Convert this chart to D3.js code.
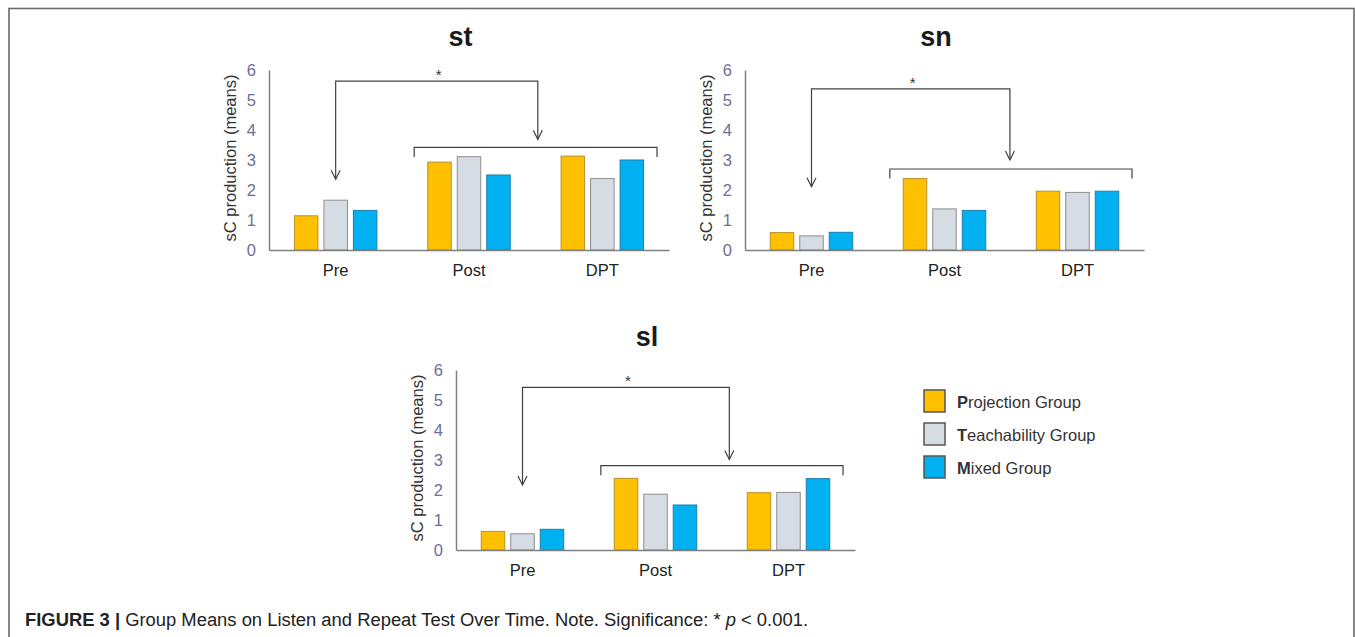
<!DOCTYPE html>
<html>
<head>
<meta charset="utf-8">
<script src="https://cdn.jsdelivr.net/npm/d3@7"></script>
<style>
  html, body { margin: 0; padding: 0; background: #fff; }
  svg { display: block; font-family: "Liberation Sans", Arial, sans-serif; }
</style>
</head>
<body>
<svg id="chart" width="1355" height="637"></svg>
<script>
// ---------------- data ----------------
const categories = ["Pre", "Post", "DPT"];
const groups = ["Projection Group", "Teachability Group", "Mixed Group"];
const yTicks = [0, 1, 2, 3, 4, 5, 6];
// values per category: [Projection, Teachability, Mixed]
const stValues = [[1.14, 1.66, 1.32], [2.93, 3.11, 2.50], [3.13, 2.38, 3.00]];
const snValues = [[0.58, 0.47, 0.59], [2.38, 1.37, 1.32], [1.96, 1.92, 1.96]];
const slValues = [[0.62, 0.54, 0.69], [2.39, 1.86, 1.50], [1.91, 1.92, 2.38]];
// significance bracket levels (data units): top line, left arrow tip, right arrow tip, lower bracket
const stSig = [5.63, 2.36, 3.69, 3.42];
const snSig = [5.37, 2.11, 3.00, 2.70];
const slSig = [5.42, 2.17, 3.02, 2.81];
const panelTitles = ["st", "sn", "sl"];
const captionBold = "FIGURE 3 |";
const captionText = " Group Means on Listen and Repeat Test Over Time. Note. Significance: * ";
const captionTail = " < 0.001.";

// ---------------- styles ----------------
const fills = ["#FFC000", "#D6DCE4", "#00B0F0"];
const strokes = ["#B8912A", "#8E8E8E", "#1E7FAF"];
const axisColor = "#808080";
const tickColor = "#6E6E94";
const lineColor = "#404040";

const svg = d3.select("#chart");

// frame
svg.append("rect")
  .attr("x", 9).attr("y", 8.5).attr("width", 1345).attr("height", 700)
  .attr("fill", "none").attr("stroke", "#6a6a6a").attr("stroke-width", 1.6);

const panels = [
  { title: panelTitles[0], values: stValues, sig: stSig, x0: 269, x1: 669, yTop: 70, yBase: 250, rightFrac: 0.672 },
  { title: panelTitles[1], values: snValues, sig: snSig, x0: 745, x1: 1144, yTop: 70, yBase: 250, rightFrac: 0.664 },
  { title: panelTitles[2], values: slValues, sig: slSig, x0: 456, x1: 855, yTop: 370, yBase: 550, rightFrac: 0.685 }
];

panels.forEach(p => {
  const g = svg.append("g");
  const x = d3.scaleBand().domain(categories).range([p.x0, p.x1]).padding(0);
  const y = d3.scaleLinear().domain([0, 6]).range([p.yBase, p.yTop]);
  const inner = d3.scaleBand().domain(groups).range([-41.25, 41.25]).paddingInner(0.203).paddingOuter(0);

  // title
  g.append("text")
    .attr("x", (p.x0 + p.x1) / 2 - 8.5).attr("y", p.yTop - 24)
    .attr("text-anchor", "middle")
    .attr("font-size", 27).attr("font-weight", "bold").attr("fill", "#1a1a1a")
    .text(p.title);

  // y axis
  const yAxis = g.append("g")
    .attr("transform", `translate(${p.x0},0)`)
    .call(d3.axisLeft(y).tickValues(yTicks).tickSize(0).tickPadding(13).tickFormat(d3.format("d")));
  yAxis.select(".domain").attr("stroke", axisColor).attr("stroke-width", 1.5);
  yAxis.selectAll("text").attr("font-size", 16.5).attr("fill", tickColor)
    .attr("font-family", "Liberation Sans, Arial, sans-serif");

  // y label
  g.append("text")
    .attr("transform", `translate(${p.x0 - 39},${(p.yTop + p.yBase) / 2 - 2}) rotate(-90)`)
    .attr("text-anchor", "middle").attr("dominant-baseline", "central")
    .attr("font-size", 16.5).attr("fill", "#333")
    .text("sC production (means)");

  // bars
  categories.forEach((c, ci) => {
    groups.forEach((gr, gi) => {
      const v = p.values[ci][gi];
      g.append("rect")
        .attr("x", x(c) + x.bandwidth() / 2 + inner(gr))
        .attr("y", y(v))
        .attr("width", inner.bandwidth())
        .attr("height", y(0) - y(v))
        .attr("fill", fills[gi]).attr("stroke", strokes[gi]).attr("stroke-width", 1);
    });
  });

  // x axis
  const xAxis = g.append("g")
    .attr("transform", `translate(0,${p.yBase})`)
    .call(d3.axisBottom(x).tickSize(0).tickSizeOuter(0).tickPadding(14));
  xAxis.select(".domain").attr("stroke", axisColor).attr("stroke-width", 1.5);
  xAxis.selectAll("text").attr("font-size", 16.5).attr("fill", "#222")
    .attr("font-family", "Liberation Sans, Arial, sans-serif");

  // significance annotation
  const w = p.x1 - p.x0;
  const lx = x("Pre") + x.bandwidth() / 2;
  const rx = p.x0 + p.rightFrac * w;
  const [topV, leftTipV, rightTipV, lowV] = p.sig;
  const ann = g.append("g").attr("fill", "none").attr("stroke", lineColor).attr("stroke-width", 1.2);
  ann.append("path").attr("d",
    `M${lx},${y(leftTipV)} L${lx},${y(topV)} L${rx},${y(topV)} L${rx},${y(rightTipV)}`);
  [[lx, leftTipV], [rx, rightTipV]].forEach(([ax, v]) => {
    const ty = y(v);
    ann.append("path").attr("d", `M${ax - 4.5},${ty - 9} L${ax},${ty} L${ax + 4.5},${ty - 9}`);
  });
  const bx0 = p.x0 + 0.363 * w, bx1 = p.x0 + 0.970 * w;
  const by = y(lowV);
  ann.append("path").attr("d", `M${bx0},${by + 9.5} L${bx0},${by} L${bx1},${by} L${bx1},${by + 9.5}`);
  g.append("text")
    .attr("x", (lx + rx) / 2 + 2).attr("y", y(topV) - 1)
    .attr("text-anchor", "middle").attr("font-size", 15).attr("fill", "#333")
    .text("*");
});

// legend
const legend = svg.append("g").attr("transform", "translate(924,390)");
groups.forEach((gr, i) => {
  const row = legend.append("g").attr("transform", `translate(0,${i * 33})`);
  row.append("rect").attr("x", 0).attr("y", 0).attr("width", 21).attr("height", 22)
    .attr("fill", fills[i]).attr("stroke", "#555").attr("stroke-width", 1.5);
  const t = row.append("text").attr("x", 33).attr("y", 11.5).attr("dominant-baseline", "central")
    .attr("font-size", 16.5).attr("fill", "#333");
  t.append("tspan").attr("font-weight", "bold").text(gr.charAt(0));
  t.append("tspan").text(gr.slice(1));
});

// caption
const cap = svg.append("text").attr("x", 25).attr("y", 626)
  .attr("font-size", 18).attr("fill", "#222");
cap.append("tspan").attr("font-weight", "bold").text(captionBold);
cap.append("tspan").text(captionText);
cap.append("tspan").attr("font-style", "italic").text("p");
cap.append("tspan").text(captionTail);
const capW = cap.node().getComputedTextLength();
if (capW > 0) cap.attr("textLength", 783).attr("lengthAdjust", "spacingAndGlyphs");
</script>
</body>
</html>
